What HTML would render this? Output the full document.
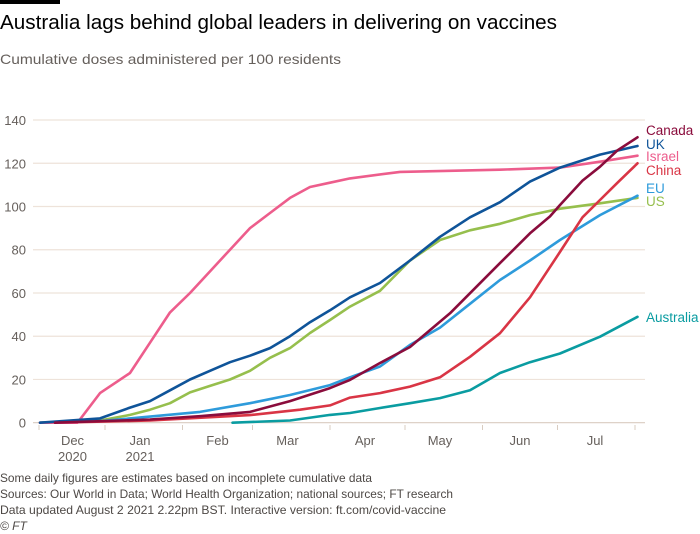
<!DOCTYPE html>
<html><head><meta charset="utf-8"><style>
html,body{margin:0;padding:0;background:#fff;}
svg{display:block;font-family:"Liberation Sans",sans-serif;}
</style></head><body>
<svg id="c" width="700" height="534" viewBox="0 0 700 534">
<rect x="0" y="0" width="60" height="4" fill="#000"/>
<text x="0" y="29" font-size="20" fill="#000" textLength="557" lengthAdjust="spacingAndGlyphs">Australia lags behind global leaders in delivering on vaccines</text>
<text x="0" y="64" font-size="14" fill="#66605c" textLength="341" lengthAdjust="spacingAndGlyphs">Cumulative doses administered per 100 residents</text>
<g id="grid"></g>
<g id="yt"></g>
<g id="xt"></g>
<g id="lines"></g>
<g id="labs"></g>
<g font-size="12" fill="#4d4845">
<text x="0" y="482" textLength="372" lengthAdjust="spacingAndGlyphs">Some daily figures are estimates based on incomplete cumulative data</text>
<text x="0" y="498" textLength="453" lengthAdjust="spacingAndGlyphs">Sources: Our World in Data; World Health Organization; national sources; FT research</text>
<text x="0" y="514" textLength="446" lengthAdjust="spacingAndGlyphs">Data updated August 2 2021 2.22pm BST. Interactive version: ft.com/covid-vaccine</text>
<text x="0" y="530" font-style="italic">© FT</text>
</g>
</svg>
<script>
// days relative to 1 Jan 2021
const yTicks=[0,20,40,60,80,100,120,140];
const monthTicks=[-26,0,31,59,90,120,151,181,212];
const monthLabels=[["Dec","2020",-13],["Jan","2021",14],["Feb","",45],["Mar","",73],["Apr","",104],["May","",134],["Jun","",166],["Jul","",196]];
const israelDays=[-26,-11,-2,10,18,26,34,42,50,58,66,74,82,90,98,118,158,182,198,213];
const israelVals=[0,0,13.7,23,37,51,60,70,80,90,97,104,109,111,113,116,117,118,120.7,123.5];
const ukDays=[-26,-2,10,18,26,34,42,50,58,66,74,82,90,98,110,122,134,146,158,170,182,198,213];
const ukVals=[0,2,7,10,15,20,24,28,31,34.5,40,46.5,52,58,64.6,75,86,95,102,111.5,118,124,128];
const usDays=[-26,-2,10,18,26,34,42,50,58,66,74,82,90,98,110,122,134,146,158,170,182,198,213];
const usVals=[0,1,3.6,6,9,14,17,20,24,30,34.5,41.5,47.5,53.7,61,75,84.5,89,92,96,99,101.5,104];
const euDays=[-26,-2,18,38,58,74,90,98,110,122,134,146,158,170,182,198,213];
const euVals=[0,0.7,2.8,5,9,12.8,17.4,21,26,36,44,55,66,75,84.5,96,105];
const caDays=[-20,18,38,58,74,90,98,110,122,138,158,170,178,182,191,198,205,213];
const caVals=[0,1.5,3,5,10,16,19.8,27.6,35,50.6,73.8,87.6,95.4,100.7,112,118.4,126,132];
const cnDays=[-20,18,58,78,90,98,110,122,134,146,158,170,182,191,198,205,213];
const cnVals=[0,1,3.5,6,8,11.6,13.7,16.7,21,30.5,41.4,58,79,95,103,111,120];
const auDays=[51,74,90,98,110,122,134,146,158,170,182,198,213];
const auVals=[0,1,3.6,4.5,6.8,9,11.4,15,23,28,32,39.8,49];
const series=[
 ["australia",auDays,auVals,"#0a9ca1","Australia"],
 ["us",usDays,usVals,"#96bf4d","US"],
 ["eu",euDays,euVals,"#2e9bdb","EU"],
 ["china",cnDays,cnVals,"#d93545","China"],
 ["israel",israelDays,israelVals,"#ed5d8c","Israel"],
 ["uk",ukDays,ukVals,"#0f5499","UK"],
 ["canada",caDays,caVals,"#8a0c3c","Canada"]];
const labelY={canada:135,uk:149,israel:161,china:175,eu:193,us:206,australia:322};
const X=d=>105+2.5*d, Y=v=>422.7-v*2.162;
const NS="http://www.w3.org/2000/svg";
function mk(t,a,p){const e=document.createElementNS(NS,t);for(const k in a)e.setAttribute(k,a[k]);p.appendChild(e);return e;}
const grid=document.getElementById('grid'),yt=document.getElementById('yt'),xt=document.getElementById('xt'),lines=document.getElementById('lines'),labs=document.getElementById('labs');
yTicks.forEach(v=>{
 const l=mk('line',{x1:33,x2:645,y1:Y(v),y2:Y(v),stroke:v===0?'#d9ccc1':'#eee3da','stroke-width':1.2},grid);
 
 
 const t=mk('text',{x:26,y:Y(v)+5,'font-size':13,fill:'#66605c','text-anchor':'end'},yt);
 t.textContent=v;
 
 
});
monthTicks.forEach(d=>{
 const l=mk('line',{x1:X(d)+(d===-26?-1:0),x2:X(d)+(d===-26?-1:0),y1:425,y2:430,stroke:'#d9ccc1','stroke-width':1},xt);
 
 
});
monthLabels.forEach(m=>{
 const t=mk('text',{x:X(m[2]),y:445,'font-size':13,fill:'#66605c','text-anchor':'middle'},xt);
 t.textContent=m[0];
 
 
 if(m[1]){const y=mk('text',{x:X(m[2]),y:461,'font-size':13,fill:'#66605c','text-anchor':'middle'},xt);
 y.textContent=m[1];
 
 }
});
series.forEach(s=>{
 const pts=s[1].map((d,i)=>X(d).toFixed(1)+','+Y(s[2][i]).toFixed(1)).join(' ');
 const p=mk('polyline',{points:pts,fill:'none',stroke:s[3],'stroke-width':2.6,'stroke-linejoin':'round','stroke-linecap':'round'},lines);
 
 
 const t=mk('text',{x:646,y:labelY[s[0]],'font-size':13.5,fill:s[3]},labs);
 t.textContent=s[4];
 
 
});
</script>
</body></html>
